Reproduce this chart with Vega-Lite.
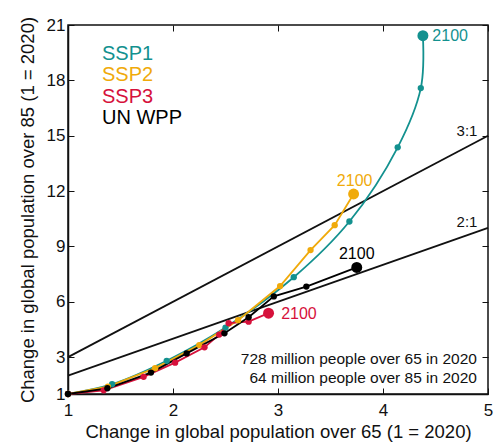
{
  "$schema": "https://vega.github.io/schema/vega-lite/v6.json",
  "width": 420,
  "height": 369,
  "autosize": {"type": "none"},
  "padding": {"left": 68, "top": 25, "right": 8, "bottom": 50},
  "background": "white",
  "config": {
    "font": "Liberation Sans",
    "view": {"stroke": "#111", "strokeWidth": 1.5},
    "axis": {
      "grid": false,
      "domainColor": "#111",
      "domainWidth": 1.5,
      "tickColor": "#111",
      "tickWidth": 1,
      "tickSize": -6,
      "labelFont": "Liberation Sans",
      "labelFontSize": 17,
      "labelColor": "#111",
      "titleFont": "Liberation Sans",
      "titleFontSize": 18.5,
      "titleFontWeight": "normal",
      "titleColor": "#111"
    }
  },
  "datasets": {
    "series": [
      {"series": "SSP1", "year": 2020, "x": 1.0, "y": 1.0},
      {"series": "SSP1", "year": 2030, "x": 1.42, "y": 1.53},
      {"series": "SSP1", "year": 2040, "x": 1.94, "y": 2.8},
      {"series": "SSP1", "year": 2050, "x": 2.5, "y": 4.6},
      {"series": "SSP1", "year": 2060, "x": 3.15, "y": 7.33},
      {"series": "SSP1", "year": 2070, "x": 3.68, "y": 10.35},
      {"series": "SSP1", "year": 2080, "x": 4.14, "y": 14.37},
      {"series": "SSP1", "year": 2090, "x": 4.36, "y": 17.58},
      {"series": "SSP1", "year": 2100, "x": 4.38, "y": 20.42},
      {"series": "SSP2", "year": 2020, "x": 1.0, "y": 1.0},
      {"series": "SSP2", "year": 2030, "x": 1.38, "y": 1.4},
      {"series": "SSP2", "year": 2040, "x": 1.83, "y": 2.4},
      {"series": "SSP2", "year": 2050, "x": 2.25, "y": 3.65},
      {"series": "SSP2", "year": 2060, "x": 2.62, "y": 5.0},
      {"series": "SSP2", "year": 2070, "x": 3.02, "y": 6.85},
      {"series": "SSP2", "year": 2080, "x": 3.31, "y": 8.8},
      {"series": "SSP2", "year": 2090, "x": 3.54, "y": 10.15},
      {"series": "SSP2", "year": 2100, "x": 3.72, "y": 11.84},
      {"series": "SSP3", "year": 2020, "x": 1.0, "y": 1.0},
      {"series": "SSP3", "year": 2030, "x": 1.34, "y": 1.2},
      {"series": "SSP3", "year": 2040, "x": 1.72, "y": 1.93},
      {"series": "SSP3", "year": 2050, "x": 2.02, "y": 2.7},
      {"series": "SSP3", "year": 2060, "x": 2.3, "y": 3.53},
      {"series": "SSP3", "year": 2070, "x": 2.44, "y": 4.22},
      {"series": "SSP3", "year": 2080, "x": 2.53, "y": 4.84},
      {"series": "SSP3", "year": 2090, "x": 2.72, "y": 4.92},
      {"series": "SSP3", "year": 2100, "x": 2.91, "y": 5.38},
      {"series": "UN WPP", "year": 2020, "x": 1.0, "y": 1.0},
      {"series": "UN WPP", "year": 2030, "x": 1.375, "y": 1.31},
      {"series": "UN WPP", "year": 2040, "x": 1.79, "y": 2.16},
      {"series": "UN WPP", "year": 2050, "x": 2.13, "y": 3.2},
      {"series": "UN WPP", "year": 2060, "x": 2.49, "y": 4.29},
      {"series": "UN WPP", "year": 2070, "x": 2.72, "y": 5.16},
      {"series": "UN WPP", "year": 2080, "x": 2.96, "y": 6.29},
      {"series": "UN WPP", "year": 2090, "x": 3.27, "y": 6.82},
      {"series": "UN WPP", "year": 2100, "x": 3.75, "y": 7.86}
    ],
    "ratios": [
      {"ratio": "3:1", "x": 1, "y": 3},
      {"ratio": "3:1", "x": 5, "y": 15},
      {"ratio": "2:1", "x": 1, "y": 2},
      {"ratio": "2:1", "x": 5, "y": 10}
    ],
    "endLabels": [
      {"series": "SSP1", "text": "2100", "x": 4.47, "y": 20.42, "anchor": "left"},
      {"series": "SSP2", "text": "2100", "x": 3.73, "y": 12.57, "anchor": "center"},
      {"series": "SSP3", "text": "2100", "x": 3.03, "y": 5.35, "anchor": "left"},
      {"series": "UN WPP", "text": "2100", "x": 3.75, "y": 8.61, "anchor": "center"}
    ],
    "ratioLabels": [
      {"text": "3:1", "x": 4.8, "y": 15.24},
      {"text": "2:1", "x": 4.8, "y": 10.33}
    ],
    "notes": [
      {"text": "728 million people over 65 in 2020", "x": 4.895, "y": 2.89},
      {"text": "64 million people over 85 in 2020", "x": 4.895, "y": 1.89}
    ],
    "legendText": [
      {"series": "SSP1", "x": 1.324, "y": 19.1},
      {"series": "SSP2", "x": 1.324, "y": 17.95},
      {"series": "SSP3", "x": 1.324, "y": 16.79},
      {"series": "UN WPP", "x": 1.324, "y": 15.63}
    ]
  },
  "resolve": {"axis": {"x": "independent", "y": "independent"}},
  "layer": [
    {
      "data": {"name": "ratios"},
      "mark": {"type": "line", "color": "#111", "strokeWidth": 1.8},
      "encoding": {
        "x": {"field": "x", "type": "quantitative", "scale": {"domain": [1, 5], "nice": false, "zero": false},
              "axis": {"orient": "bottom", "values": [1, 2, 3, 4, 5], "title": "Change in global population over 65 (1 = 2020)", "labelPadding": 14, "titlePadding": 4, "labelFlush": false}},
        "y": {"field": "y", "type": "quantitative", "scale": {"domain": [1, 21], "nice": false, "zero": false},
              "axis": {"orient": "left", "values": [1, 3, 6, 9, 12, 15, 18, 21], "title": "Change in global population over 85 (1 = 2020)", "labelPadding": 9, "titlePadding": 9, "labelFlush": false}},
        "detail": {"field": "ratio"}
      }
    },
    {
      "data": {"name": "ratios"},
      "mark": {"type": "line", "opacity": 0},
      "encoding": {
        "x": {"field": "x", "type": "quantitative", "axis": {"orient": "top", "values": [1, 2, 3, 4, 5], "labels": false, "title": null, "domain": false}},
        "y": {"field": "y", "type": "quantitative", "axis": {"orient": "right", "values": [1, 3, 6, 9, 12, 15, 18, 21], "labels": false, "title": null, "domain": false}},
        "detail": {"field": "ratio"}
      }
    },
    {
      "data": {"name": "series"},
      "transform": [{"filter": "datum.series == 'SSP1'"}],
      "mark": {"type": "line", "interpolate": "catmull-rom", "strokeWidth": 1.8},
      "encoding": {
        "x": {"field": "x", "type": "quantitative", "axis": null},
        "y": {"field": "y", "type": "quantitative", "axis": null},
        "order": {"field": "year"},
        "color": {"field": "series", "type": "nominal", "legend": null,
                  "scale": {"domain": ["SSP1", "SSP2", "SSP3", "UN WPP"], "range": ["#13918f", "#f0aa0a", "#d6113b", "#000000"]}}
      }
    },
    {
      "data": {"name": "series"},
      "transform": [{"filter": "datum.series != 'SSP1'"}],
      "mark": {"type": "line", "strokeWidth": 1.8},
      "encoding": {
        "x": {"field": "x", "type": "quantitative", "axis": null},
        "y": {"field": "y", "type": "quantitative", "axis": null},
        "order": {"field": "year"},
        "color": {"field": "series", "type": "nominal", "legend": null}
      }
    },
    {
      "data": {"name": "series"},
      "mark": {"type": "circle", "opacity": 1},
      "encoding": {
        "x": {"field": "x", "type": "quantitative", "axis": null},
        "y": {"field": "y", "type": "quantitative", "axis": null},
        "color": {"field": "series", "type": "nominal", "legend": null},
        "size": {"condition": {"test": "datum.year == 2100", "value": 120}, "value": 40}
      }
    },
    {
      "data": {"name": "endLabels"},
      "transform": [{"filter": "datum.anchor == 'left'"}],
      "mark": {"type": "text", "align": "left", "baseline": "middle", "fontSize": 16},
      "encoding": {
        "x": {"field": "x", "type": "quantitative", "axis": null},
        "y": {"field": "y", "type": "quantitative", "axis": null},
        "text": {"field": "text"},
        "color": {"field": "series", "type": "nominal", "legend": null}
      }
    },
    {
      "data": {"name": "endLabels"},
      "transform": [{"filter": "datum.anchor == 'center'"}],
      "mark": {"type": "text", "align": "center", "baseline": "middle", "fontSize": 16},
      "encoding": {
        "x": {"field": "x", "type": "quantitative", "axis": null},
        "y": {"field": "y", "type": "quantitative", "axis": null},
        "text": {"field": "text"},
        "color": {"field": "series", "type": "nominal", "legend": null}
      }
    },
    {
      "data": {"name": "ratioLabels"},
      "mark": {"type": "text", "align": "center", "baseline": "middle", "fontSize": 15, "color": "#111"},
      "encoding": {
        "x": {"field": "x", "type": "quantitative", "axis": null},
        "y": {"field": "y", "type": "quantitative", "axis": null},
        "text": {"field": "text"}
      }
    },
    {
      "data": {"name": "notes"},
      "mark": {"type": "text", "align": "right", "baseline": "middle", "fontSize": 15.5, "color": "#111"},
      "encoding": {
        "x": {"field": "x", "type": "quantitative", "axis": null},
        "y": {"field": "y", "type": "quantitative", "axis": null},
        "text": {"field": "text"}
      }
    },
    {
      "data": {"name": "legendText"},
      "mark": {"type": "text", "align": "left", "baseline": "alphabetic", "fontSize": 20},
      "encoding": {
        "x": {"field": "x", "type": "quantitative", "axis": null},
        "y": {"field": "y", "type": "quantitative", "axis": null},
        "text": {"field": "series"},
        "color": {"field": "series", "type": "nominal", "legend": null}
      }
    }
  ]
}
